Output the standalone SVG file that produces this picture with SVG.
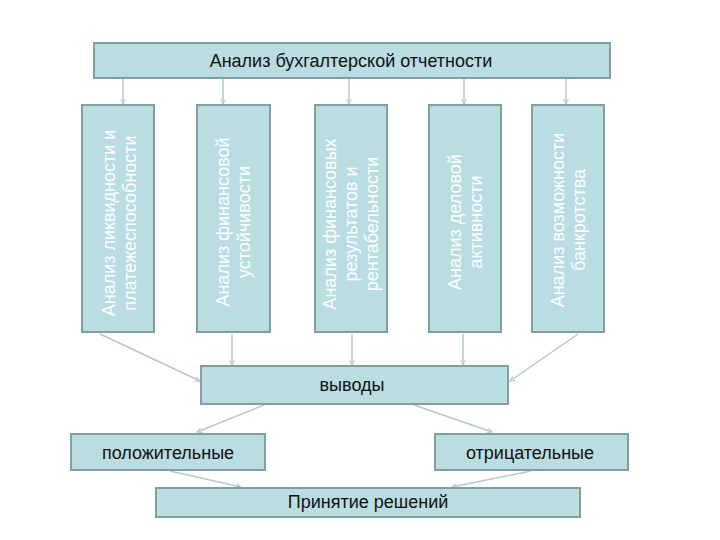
<svg xmlns="http://www.w3.org/2000/svg" width="720" height="540" viewBox="0 0 720 540">
<defs>
<marker id="ah" markerWidth="6" markerHeight="6" refX="5" refY="3" orient="auto" markerUnits="userSpaceOnUse">
<path d="M0,0.5 L5,3 L0,5.5" fill="none" stroke="#b4c8cc" stroke-width="1"/>
</marker>
<style>
.box{fill:#b9dde1;stroke:#829ea2;stroke-width:2}
.t{font-family:"Liberation Sans",Arial,sans-serif;font-size:18px;fill:#111;text-anchor:middle;dominant-baseline:central}
.v{font-family:"Liberation Sans",Arial,sans-serif;font-size:18px;fill:#ffffff;text-anchor:middle;dominant-baseline:central}
.c{stroke:#b4c8cc;stroke-width:1.5;fill:none;marker-end:url(#ah)}
</style>
</defs>
<rect width="720" height="540" fill="#ffffff"/>
<g id="connectors">
<line class="c" x1="123" y1="79" x2="123" y2="104"/>
<line class="c" x1="223" y1="79" x2="223" y2="104"/>
<line class="c" x1="349" y1="79" x2="349" y2="104"/>
<line class="c" x1="464" y1="79" x2="464" y2="104"/>
<line class="c" x1="566" y1="79" x2="566" y2="104"/>
<line class="c" x1="100" y1="334" x2="200" y2="381"/>
<line class="c" x1="232" y1="334" x2="232" y2="365"/>
<line class="c" x1="352" y1="334" x2="352" y2="365"/>
<line class="c" x1="463" y1="334" x2="463" y2="365"/>
<line class="c" x1="578" y1="334" x2="510" y2="381"/>
<line class="c" x1="264" y1="405" x2="197" y2="432"/>
<line class="c" x1="414" y1="405" x2="492" y2="432"/>
<line class="c" x1="170" y1="471" x2="241" y2="487"/>
<line class="c" x1="531" y1="471" x2="452" y2="487"/>
</g>
<g id="top">
<rect class="box" x="94" y="43" width="516" height="35"/>
<text class="t" x="351" y="61">Анализ бухгалтерской отчетности</text>
</g>
<g id="b1">
<rect class="box" x="82" y="105" width="72" height="227"/>
<text class="v" transform="translate(119,223) rotate(-90)"><tspan x="0" y="-10.5">Анализ ликвидности и</tspan><tspan x="0" y="10.5">платежеспособности</tspan></text>
</g>
<g id="b2">
<rect class="box" x="197" y="105" width="73" height="227"/>
<text class="v" transform="translate(233,222) rotate(-90)"><tspan x="0" y="-10.5">Анализ финансовой</tspan><tspan x="0" y="10.5">устойчивости</tspan></text>
</g>
<g id="b3">
<rect class="box" x="315" y="105" width="72" height="227"/>
<text class="v" transform="translate(351,224) rotate(-90)"><tspan x="0" y="-21">Анализ финансовых</tspan><tspan x="0" y="0">результатов и</tspan><tspan x="0" y="21">рентабельности</tspan></text>
</g>
<g id="b4">
<rect class="box" x="429" y="105" width="72" height="227"/>
<text class="v" transform="translate(465,222) rotate(-90)"><tspan x="0" y="-10.5">Анализ деловой</tspan><tspan x="0" y="10.5">активности</tspan></text>
</g>
<g id="b5">
<rect class="box" x="532" y="105" width="72" height="227"/>
<text class="v" transform="translate(568,220) rotate(-90)"><tspan x="0" y="-10.5">Анализ возможности</tspan><tspan x="0" y="10.5">банкротства</tspan></text>
</g>
<g id="vyvody">
<rect class="box" x="201" y="366" width="307" height="38"/>
<text class="t" x="352" y="385">выводы</text>
</g>
<g id="pos">
<rect class="box" x="71" y="434" width="194" height="36"/>
<text class="t" x="168" y="453">положительные</text>
</g>
<g id="neg">
<rect class="box" x="435" y="434" width="193" height="36"/>
<text class="t" x="530" y="453">отрицательные</text>
</g>
<g id="decision">
<rect class="box" x="156" y="488" width="424" height="29"/>
<text class="t" x="368" y="502">Принятие решений</text>
</g>
</svg>
